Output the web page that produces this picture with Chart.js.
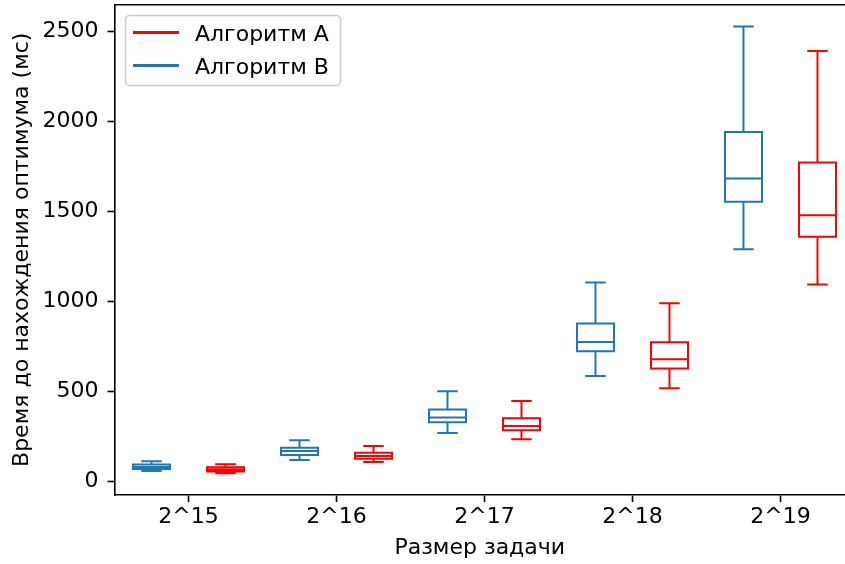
<!DOCTYPE html>
<html>
<head>
<meta charset="utf-8">
<script src="https://cdn.jsdelivr.net/npm/chart.js@4/dist/chart.umd.min.js"></script>
<style>
html,body{margin:0;padding:0;background:#fff;overflow:hidden;}
#wrap{position:relative;width:845px;height:564px;}
</style>
</head>
<body>
<div id="wrap"><canvas id="c"></canvas></div>
<script>
// ---- data ----
const categories = ['2^15', '2^16', '2^17', '2^18', '2^19'];
const positions = [1, 2, 3, 4, 5];
const yTickValues = [0, 500, 1000, 1500, 2000, 2500];

const labelA = 'Алгоритм A';
const labelB = 'Алгоритм B';

// Algorithm B (blue)
const bMin = [56, 118, 268, 585, 1289];
const bQ1  = [67, 146, 328, 722, 1554];
const bMed = [79, 167, 354, 774, 1682];
const bQ3  = [92, 185, 398, 876, 1941];
const bMax = [111, 228, 500, 1104, 2528];

// Algorithm A (red)
const aMin = [44, 107, 233, 517, 1093];
const aQ1  = [54, 124, 283, 626, 1359];
const aMed = [65, 140, 307, 678, 1478];
const aQ3  = [77, 158, 350, 772, 1771];
const aMax = [94, 196, 446, 989, 2391];

const xTitle = 'Размер задачи';
const yTitle = 'Время до нахождения оптимума (мс)';

// ---- layout / style ----
const offB = -0.25, offA = 0.25;
const boxHalf = 0.125, capHalf = 0.0625;
const blue = '#1f77b4', red = '#ff0000';
const FONT = 22;

function boxSegments(off, mn, q1, md, q3, mx) {
  const pts = [];
  positions.forEach((p, i) => {
    const c = p + off, l = c - boxHalf, r = c + boxHalf;
    const gap = () => pts.push({x: c, y: null});
    pts.push({x: l, y: q1[i]}, {x: r, y: q1[i]}, {x: r, y: q3[i]}, {x: l, y: q3[i]}, {x: l, y: q1[i]}); gap();
    pts.push({x: l, y: md[i]}, {x: r, y: md[i]}); gap();
    pts.push({x: c, y: q3[i]}, {x: c, y: mx[i]}); gap();
    pts.push({x: c - capHalf, y: mx[i]}, {x: c + capHalf, y: mx[i]}); gap();
    pts.push({x: c, y: q1[i]}, {x: c, y: mn[i]}); gap();
    pts.push({x: c - capHalf, y: mn[i]}, {x: c + capHalf, y: mn[i]}); gap();
  });
  return pts;
}

Chart.defaults.font.family = "'DejaVu Sans'";
Chart.defaults.font.size = FONT;
Chart.defaults.color = '#000';

const legendPlugin = {
  id: 'mplLegend',
  afterDraw(chart) {
    const ctx = chart.ctx;
    ctx.save();
    const x0 = 125.5, y0 = 15.5, w = 215, h = 70, rad = 4;
    ctx.beginPath();
    ctx.roundRect(x0, y0, w, h, rad);
    ctx.fillStyle = 'rgba(255,255,255,0.8)';
    ctx.fill();
    ctx.lineWidth = 1.5;
    ctx.strokeStyle = '#cccccc';
    ctx.stroke();
    const entries = chart.data.datasets.slice().sort((a, b) => a.legendOrder - b.legendOrder);
    entries.forEach((ds, i) => {
      const cy = 32.5 + i * 33;
      ctx.beginPath();
      ctx.moveTo(133, cy);
      ctx.lineTo(179, cy);
      ctx.lineWidth = 3;
      ctx.strokeStyle = ds.borderColor;
      ctx.lineCap = 'butt';
      ctx.stroke();
      ctx.fillStyle = '#000';
      ctx.font = FONT + "px 'DejaVu Sans'";
      ctx.textBaseline = 'alphabetic';
      ctx.textAlign = 'left';
      ctx.fillText(ds.label, 195, cy + 8);
    });
    ctx.restore();
  }
};

const common = {
  borderWidth: 2,
  pointRadius: 0,
  pointHoverRadius: 0,
  tension: 0,
  spanGaps: false,
  fill: false,
  borderCapStyle: 'square',
  borderJoinStyle: 'miter'
};

new Chart(document.getElementById('c'), {
  type: 'line',
  data: {
    datasets: [
      Object.assign({label: labelB, legendOrder: 1, borderColor: blue, data: boxSegments(offB, bMin, bQ1, bMed, bQ3, bMax)}, common),
      Object.assign({label: labelA, legendOrder: 0, borderColor: red, data: boxSegments(offA, aMin, aQ1, aMed, aQ3, aMax)}, common)
    ]
  },
  options: {
    responsive: true,
    maintainAspectRatio: false,
    animation: false,
    layout: {padding: 0, autoPadding: false},
    plugins: {legend: {display: false}, tooltip: {enabled: false}},
    scales: {
      x: {
        type: 'linear', position: 'bottom', min: 0.5, max: 5.436,
        afterBuildTicks(s) { s.ticks = positions.map(v => ({value: v})); },
        afterFit(s) { s.height = 69; s.paddingLeft = 0; s.paddingRight = 0; },
        ticks: {
          autoSkip: false, maxRotation: 0, padding: 2,
          callback: (v) => categories[positions.indexOf(v)] ?? ''
        },
        grid: {drawOnChartArea: false, tickLength: 7, tickWidth: 1.6, tickColor: '#000'},
        border: {display: true, color: '#000', width: 1.6},
        title: {display: true, text: xTitle, padding: {top: 0, bottom: 3}}
      },
      xTop: {
        type: 'linear', position: 'top', min: 0.5, max: 5.436,
        ticks: {display: false},
        grid: {display: false},
        border: {display: true, color: '#000', width: 1.6},
        afterFit(s) { s.height = 4.5; s.paddingLeft = 0; s.paddingRight = 0; }
      },
      y: {
        type: 'linear', position: 'left', min: -77, max: 2650,
        afterBuildTicks(s) { s.ticks = yTickValues.map(v => ({value: v})); },
        afterFit(s) { s.width = 114.5; s.paddingTop = 0; s.paddingBottom = 0; },
        ticks: {padding: 9, callback: (v) => String(v)},
        grid: {drawOnChartArea: false, tickLength: 7, tickWidth: 1.6, tickColor: '#000'},
        border: {display: true, color: '#000', width: 1.6},
        title: {display: true, text: yTitle, padding: {top: 9, bottom: 0}}
      }
    }
  },
  plugins: [legendPlugin]
});
</script>
</body>
</html>
